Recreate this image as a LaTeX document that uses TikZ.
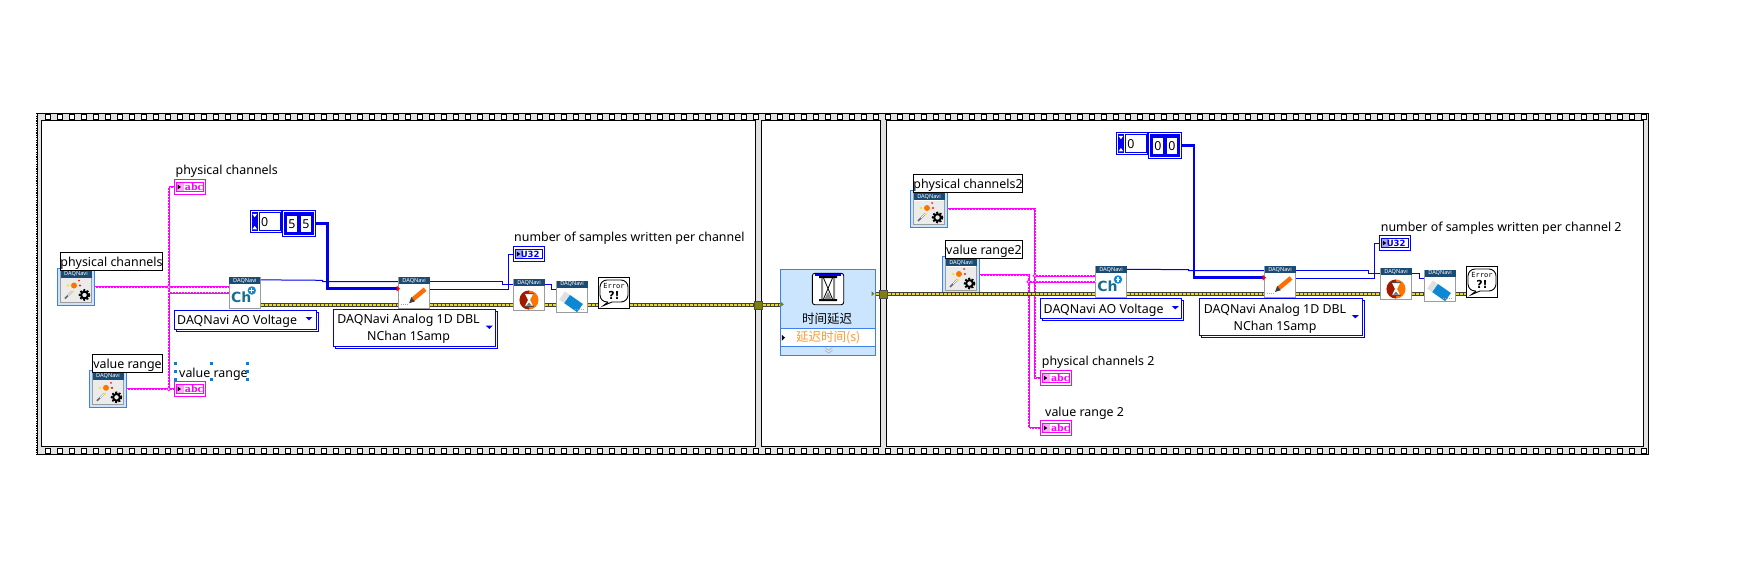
\documentclass[tikz,border=0pt]{standalone}
\usepackage{fontspec}
\setmainfont{Noto Sans}
\newfontfamily\cjk{Noto Sans CJK SC}
\newfontfamily\indfont{DejaVu Serif}
\newfontfamily\errfont{DejaVu Sans Mono}
\newfontfamily\heavyfont{DejaVu Sans}
\usetikzlibrary{shadows}
\definecolor{hdrblue}{HTML}{1B4B72}
\definecolor{vigray}{HTML}{9C9C9C}
\definecolor{wizblue}{HTML}{3F7FE8}
\definecolor{wizfill}{HTML}{CCE5FF}
\definecolor{wireblue}{HTML}{0000F0}
\definecolor{pinkwire}{HTML}{FF00FF}
\definecolor{tunnelolive}{HTML}{7F7F10}
\definecolor{framegray}{HTML}{E2E2E2}
\definecolor{delayorange}{HTML}{FF9A2E}
\tikzset{
txtmulti/.style={
    font=\fontsize{12.4}{17}\selectfont,
    inner sep=0pt
},
txt/.style={
    txtmulti,
    text height=11pt,
    text depth=1pt
},
lblbox/.style={
    txt,
    draw=black,
    fill=white,
    line width=0.9pt,
    minimum height=18pt
},
hdr/.style={
    fill=hdrblue,
    text=white,
    font=\fontsize{5.6}{5.6}\selectfont\bfseries,
    inner sep=0pt,
    minimum width=31pt,
    minimum height=7pt,
    anchor=north
},
vinode/.style={
    rectangle,
    draw=vigray,
    fill=white,
    line width=0.9pt,
    minimum size=31.4pt,
    inner sep=0pt,
    label={[hdr]north:DAQNavi}
},
wizbox/.style={
    rectangle,
    draw=wizblue,
    fill=wizfill,
    line width=0.9pt,
    minimum size=37pt,
    inner sep=0pt
},
errbox/.style={
    rectangle,
    draw=black,
    fill=white,
    line width=0.9pt,
    minimum size=31.4pt,
    inner sep=0pt
},
dropbox/.style={
    rectangle,
    draw=wireblue,
    fill=white,
    line width=0.9pt,
    inner sep=0pt,
    copy shadow={shadow xshift=2pt,shadow yshift=-2pt,draw=wireblue,fill=white}
},
tunnel/.style={
    rectangle,
    draw=black!70,
    fill=tunnelolive,
    line width=0.5pt,
    minimum size=8pt,
    inner sep=0pt
},
junction/.style={
    circle,
    draw=pinkwire,
    fill=white,
    line width=0.8pt,
    minimum size=3.6pt,
    inner sep=0pt
},
indbox/.style={
    rectangle,
    draw=#1,
    fill=white,
    line width=0.9pt,
    minimum width=31.4pt,
    minimum height=15.4pt,
    inner sep=0pt
},
pinkline/.style={
    draw=pinkwire,
    line width=2.2pt,
    postaction={draw=white,line width=0.6pt,dash pattern=on 1pt off 2pt}
},
taskline/.style={
    draw=wireblue,
    line width=1pt
},
arrayline/.style={
    draw=wireblue,
    line width=2.6pt
},
errline/.style={
    draw=black!85!yellow,
    line width=4pt,
    postaction={draw=yellow!90!black,line width=2pt,dash pattern=on 3pt off 1pt}
},
wand/.pic={
    \fill[black!8] (-15,-8.5) rectangle (15,15);
    \draw[black!60,line width=1.6pt] (-11,12) -- (-4,5);
    \draw[white,line width=1pt] (-8,9) -- (-4,5);
    \fill[orange!90!red] (-2,-1) circle (3);
    \fill[yellow!90!orange] (-8,-1) circle (1.3) (-3,5) circle (1.2);
    \fill[red!80!orange] (3,-6) circle (1) (4,-1) circle (1.2);
    \draw[black,line width=2pt] (8.5,8.5) circle (3.4);
    \draw[black,line width=1.6pt,dash pattern=on 2pt off 1.6pt] (8.5,8.5) circle (5);
},
pencil/.pic={
    \draw[orange!85!red,line width=4.4pt] (-1,6) -- (11,-4);
    \fill[black!75] (-5,10) -- (-2.8,3.8) -- (0.8,8.2) -- cycle;
    \draw[black!35,line width=0.8pt,dash pattern=on 1pt off 1pt] (-13,11) -- (-6,11);
},
waitglass/.pic={
    \fill[orange!90!red] (0,5) circle (9.5);
    \fill[red!55!black!80!orange] (0,14.5) arc (90:270:9.5) -- cycle;
    \fill[white] (-4,-1) -- (4,-1) -- (1,5) -- (4,11) -- (-4,11) -- (-1,5) -- cycle;
    \fill[black!70] (-4.5,-2) rectangle (4.5,-0.8) (-4.5,10.6) rectangle (4.5,11.8);
    \fill[black!55] (-2.5,10.6) -- (2.5,10.6) -- (0,7.5) -- cycle;
},
eraser/.pic={
    \begin{scope}[shift={(-1,5)},rotate=-35]
    \fill[cyan!70!blue] (-5,-5) rectangle (11,5);
    \fill[black!12] (-11,-5) rectangle (-5,5);
    \end{scope}
    \draw[black!35,line width=0.7pt,dash pattern=on 1pt off 1pt] (3,13) -- (13,13);
},
plusdot/.pic={
    \fill[cyan!70!blue] (0,0) circle (4.2);
    \draw[white,line width=1.2pt] (-2.4,0) -- (2.4,0) (0,-2.4) -- (0,2.4);
},
bubble/.pic={
    \draw[black,line width=0.9pt,rounded corners=7pt] (-6,9) -- (-14,9) -- (-14,-13) -- (14,-13) -- (14,9) -- (-2,9);
    \draw[black,line width=0.9pt] (-2,9) -- (-10.7,12.7) -- (-6,9);
},
bigglass/.pic={
    \fill[wireblue] (-13,-15) rectangle (13,-13.4);
    \fill[black] (-9,-13) rectangle (9,-11) (-9,10) rectangle (9,12);
    \fill[black!45] (-7,-11) rectangle (-5,10) (5,-11) rectangle (7,10);
    \draw[black,line width=0.8pt] (-4.5,-11) -- (4.5,10) (4.5,-11) -- (-4.5,10);
    \fill[black!45] (-3.5,10) -- (3.5,10) -- (0,3) -- cycle;
},
droptri/.pic={
    \fill[wireblue] (-3.5,-1.7) -- (3.5,-1.7) -- (0,1.7) -- cycle;
},
inarrow/.pic={
    \fill[tunnelolive] (0,-2.5) -- (3,0) -- (0,2.5) -- cycle;
},
blackarrow/.pic={
    \fill[black] (0,-3) -- (3.2,0) -- (0,3) -- cycle;
}
}
\newcommand{\wizardicon}[2]{
\node[wizbox] (#1) at (#2) {};
\node[vinode] (#1in) at (#1) {};
\pic at (#1) {wand};
}
\newcommand{\indicator}[5]{
\node[indbox=#3] (#1) at (#2) {};
\draw[#3,line width=0.8pt] ([shift={(2.6pt,3.6pt)}]#1.south west) rectangle ([shift={(-2.6pt,-3.6pt)}]#1.north east);
\fill[#3!35] ([shift={(2.9pt,3.9pt)}]#1.south west) rectangle ([shift={(10pt,-3.9pt)}]#1.north west);
\fill[black] ([shift={(4pt,2.4pt)}]#1.west) -- ([shift={(4pt,-2.4pt)}]#1.west) -- ([shift={(7.4pt,0pt)}]#1.west) -- cycle;
\node[text=#3,inner sep=0pt,anchor=west] (#1txt) at ([xshift=#4]#1.west) {#5};
}
\newcommand{\numconst}[3]{
\node[indbox=wireblue,minimum width=31.7pt,minimum height=22pt] (#1) at (#2) {};
\draw[wireblue,line width=0.8pt] ([shift={(10pt,2.4pt)}]#1.south west) rectangle ([shift={(-1.6pt,-1.8pt)}]#1.north east);
\fill[wireblue] ([shift={(2pt,2.4pt)}]#1.south west) rectangle ([shift={(8.4pt,-1.8pt)}]#1.north west);
\fill[white] ([shift={(2.8pt,-3.6pt)}]#1.north west) -- ([shift={(7.6pt,-3.6pt)}]#1.north west) -- ([shift={(5.2pt,-7pt)}]#1.north west) -- cycle;
\fill[white] ([shift={(2.8pt,3.8pt)}]#1.south west) -- ([shift={(7.6pt,3.8pt)}]#1.south west) -- ([shift={(5.2pt,7.2pt)}]#1.south west) -- cycle;
\node[txt,anchor=west] (#1txt) at ([xshift=11.5pt]#1.west) {#3};
}
\newcommand{\arrayconst}[3]{
\node[indbox=wireblue,minimum width=33.4pt,minimum height=26pt] (#1) at (#2) {};
\fill[wireblue] ([shift={(1.8pt,1.8pt)}]#1.south west) rectangle ([shift={(-1.8pt,-1.8pt)}]#1.north east);
\node[txt,fill=white,minimum width=10.6pt,minimum height=16pt] (#1l) at ([xshift=-7pt]#1) {#3};
\node[txt,fill=white,minimum width=10.6pt,minimum height=16pt] (#1r) at ([xshift=7pt]#1) {#3};
}
\newcommand{\abcfont}{\fontsize{9.5}{9.5}\selectfont\indfont\bfseries}
\newcommand{\ufont}{\fontsize{8.5}{8.5}\selectfont\heavyfont\bfseries}
\begin{document}
\begin{tikzpicture}[x=1pt,y=-1pt]
\useasboundingbox (0,0) rectangle (1744,588);
\filldraw[fill=framegray,draw=black,line width=1pt] (37,113.3) rectangle (1648.3,454.7);
\draw[black,line width=1.4pt,dash pattern=on 1.2pt off 1.2pt] (36.6,113.3) -- (36.6,454.7) (1648.4,113.3) -- (1648.4,454.7);
\foreach \i in {0,...,133} {
\filldraw[fill=white,draw=black,line width=0.9pt] (48+12*\i-2.4,114.4) rectangle (48+12*\i+2.4,119);
\filldraw[fill=white,draw=black,line width=0.9pt] (48+12*\i-2.4,448.4) rectangle (48+12*\i+2.4,453);
}
\filldraw[fill=white,draw=black,line width=1pt] (41.3,121) rectangle (755.3,446);
\filldraw[fill=white,draw=black,line width=1pt] (761.3,121) rectangle (880.7,446);
\filldraw[fill=white,draw=black,line width=1pt] (886.7,121) rectangle (1643,446);

\wizardicon{wizA}{76,286.5}
\wizardicon{wizB}{108,388.8}
\wizardicon{wizC}{929,209}
\wizardicon{wizD}{961,275}
\node[lblbox,minimum width=102.4pt] (lblA) at (111.5,261.7) {physical channels};
\node[lblbox,minimum width=70.4pt] (lblB) at (127.5,363.7) {value range};
\node[lblbox,minimum width=109.4pt] (lblC) at (968,183.3) {physical channels2};
\node[lblbox,minimum width=77.4pt] (lblD) at (984,249.3) {value range2};

\indicator{abcA}{189.8,187}{pinkwire}{11pt}{\abcfont abc}
\indicator{abcB}{189.8,389}{pinkwire}{11pt}{\abcfont abc}
\indicator{abcC}{1056,378}{pinkwire}{11pt}{\abcfont abc}
\indicator{abcD}{1056,428}{pinkwire}{11pt}{\abcfont abc}
\indicator{u32A}{529,254}{wireblue}{7.7pt}{\ufont U32}
\indicator{u32B}{1395,243}{wireblue}{7.7pt}{\ufont U32}
\node[txt,anchor=west] (nameA) at (175.5,170) {physical channels};
\node[txt,anchor=west] (nameB) at (179,372) {value range};
\node[txt,anchor=west] (nameC) at (1041.7,360.7) {physical channels 2};
\node[txt,anchor=west] (nameD) at (1045,411) {value range 2};
\node[txt,anchor=west] (nameE) at (514,236.7) {number of samples written per channel};
\node[txt,anchor=west] (nameF) at (1380.7,226) {number of samples written per channel 2};
\foreach \hx/\hy in {175.3/363.3,211.3/363.3,247.3/363.3,175.3/371.7,247.3/371.7,175.3/379.3,211.3/379.3,247.3/379.3}
\fill[cyan!60!blue] (\hx-1.3,\hy-1.3) rectangle (\hx+1.3,\hy+1.3);

\node[vinode] (chA) at (244.8,293) {};
\node[vinode] (writeA) at (414.1,293.2) {};
\node[vinode] (waitA) at (529,295) {};
\node[vinode] (eraseA) at (572,296.8) {};
\node[errbox] (errorA) at (614,293) {};
\node[vinode] (chB) at (1111,282) {};
\node[vinode] (writeB) at (1280,282) {};
\node[vinode] (waitB) at (1396,284) {};
\node[vinode] (eraseB) at (1440,285.8) {};
\node[errbox] (errorB) at (1482,282) {};
\foreach \n in {chA,chB} {
\node[inner sep=0pt,text=hdrblue!80!cyan,font=\fontsize{14}{14}\selectfont\heavyfont\bfseries] (\n txt) at ([shift={(-3.5pt,-4.5pt)}]\n) {Ch};
\pic at ([shift={(7pt,2.5pt)}]\n) {plusdot};
}
\pic at (writeA) {pencil};
\pic at (writeB) {pencil};
\pic at (waitA) {waitglass};
\pic at (waitB) {waitglass};
\pic at (eraseA) {eraser};
\pic at (eraseB) {eraser};
\foreach \n in {errorA,errorB} {
\pic at (\n) {bubble};
\node[inner sep=0pt,font=\fontsize{7}{7}\selectfont\errfont] (\n txt) at ([yshift=7pt]\n) {Error};
\node[inner sep=0pt,font=\fontsize{11}{11}\selectfont\heavyfont\bfseries] (\n sign) at ([yshift=-2pt]\n) {?!};
}

\numconst{ringA}{265.8,221.7}{0}
\arrayconst{arrA}{299,223.7}{5}
\numconst{ringB}{1132,143.7}{0}
\arrayconst{arrB}{1165,145.7}{0}

\node[dropbox,minimum width=141.7pt,minimum height=19.3pt] (ddA) at (245.2,319.7) {};
\node[txt,anchor=west] (ddAtxt) at (177,319.3) {DAQNavi AO Voltage};
\pic at (309,318.7) {droptri};
\node[dropbox,minimum width=162.4pt,minimum height=37.4pt] (ddB) at (414.5,328) {};
\node[txtmulti,align=center] (ddBtxt) at (408.5,329) {DAQNavi Analog 1D DBL\\NChan 1Samp};
\pic at (489.3,327.3) {droptri};
\node[dropbox,minimum width=141.4pt,minimum height=20pt] (ddC) at (1111,308.7) {};
\node[txt,anchor=west] (ddCtxt) at (1043.5,308.7) {DAQNavi AO Voltage};
\pic at (1175.3,307.7) {droptri};
\node[dropbox,minimum width=162.7pt,minimum height=37pt] (ddD) at (1280.7,316.8) {};
\node[txtmulti,align=center] (ddDtxt) at (1275,318.5) {DAQNavi Analog 1D DBL\\NChan 1Samp};
\pic at (1355.3,316.7) {droptri};

\node[rectangle,draw=wizblue,fill=wizfill,line width=0.9pt,minimum width=95.4pt,minimum height=86.4pt,inner sep=0pt] (delay) at (828,312.5) {};
\node[rectangle,draw=wizblue,fill=white,line width=0.9pt,minimum width=95.4pt,minimum height=17.6pt,inner sep=0pt] (delayrow) at (828,337.5) {};
\node[rectangle,draw=black,fill=white,line width=0.9pt,rounded corners=2.5pt,minimum size=31.4pt,inner sep=0pt] (delayicon) at (828,289) {};
\pic at (delayicon) {bigglass};
\node[inner sep=0pt,font=\fontsize{12.5}{14}\selectfont\cjk] (delaytitle) at (827,318.7) {时间延迟};
\node[inner sep=0pt,text=delayorange,font=\fontsize{12.5}{14}\selectfont\cjk] (delaytime) at (828.3,337.7) {延迟时间(s)};
\draw[black!30,line width=0.7pt] (825,347.6) -- (828.7,350.3) -- (832.4,347.6) (825,350.4) -- (828.7,353.1) -- (832.4,350.4);
\pic at (780.8,304.3) {inarrow};
\pic at (871.5,293.7) {inarrow};
\pic at (781.8,337.7) {blackarrow};

\node[tunnel] (tunA) at (758.3,305.3) {};
\node[tunnel] (tunB) at (883.6,294.3) {};

\coordinate (jA) at (168.7,287);
\coordinate (jAb) at (168.7,292.7);
\coordinate (jAc) at (168.7,389);
\coordinate (jAd) at (168.7,187);
\draw[pinkline] (jAd) -- (jAc);
\draw[pinkline] (abcA.west) -- (jAd);
\draw[pinkline] (wizA.east |- jA) -- (chA.west |- jA);
\draw[pinkline] (jAb) -- (chA.west |- jAb);
\draw[pinkline] (wizB.east |- jAc) -- (abcB.west |- jAc);
\node[junction] (dotA) at (jA) {};
\node[junction] (dotAc) at (jAc) {};

\coordinate (jB) at (1035,275.7);
\coordinate (jBb) at (1028.7,281.7);
\draw[pinkline] (wizC.east) -- (jB |- wizC.east) -- (jB |- abcC.west) -- (abcC.west);
\draw[pinkline] (wizD.east) -- (jBb |- wizD.east) -- (jBb |- abcD.west) -- (abcD.west);
\draw[pinkline] (jB) -- (chB.west |- jB);
\draw[pinkline] (jBb) -- (chB.west |- jBb);
\node[junction] (dotB) at (jB) {};
\node[junction] (dotBb) at (jBb) {};

\draw[taskline] ([yshift=-3pt]chA.north east) -- (322.7,280.3) -- (322.7,281.7) -- (writeA.west |- 0,281.7);
\draw[taskline] (writeA.east |- 0,281.3) -- (502.3,281.3) -- (502.3,284) -- (waitA.west |- 0,284);
\draw[taskline] (writeA.east |- 0,289.3) -- (508.7,289.3) -- (508.7,254) -- (u32A.west);
\draw[taskline] (waitA.east |- 0,284) -- (551.3,284) -- (551.3,289.3) -- (eraseA.west |- 0,289.3);
\draw[taskline] ([yshift=-3.4pt]chB.north east) -- (1188.7,269.7) -- (1188.7,270.7) -- (writeB.west |- 0,270.7);
\draw[taskline] (writeB.east |- 0,270.7) -- (1368.7,270.7) -- (1368.7,273.3) -- (waitB.west |- 0,273.3);
\draw[taskline] (writeB.east |- 0,278) -- (1374.3,278) -- (1374.3,243) -- (u32B.west);
\draw[taskline] (waitB.east |- 0,273.3) -- (1419.3,273.3) -- (1419.3,278.3) -- (eraseB.west |- 0,278.3);

\draw[arrayline] (arrA.east) -- (327.7,223.7) -- (327.7,288.7) -- (writeA.west |- 0,288.7);
\draw[arrayline] (arrB.east) -- (1194,145.7) -- (1194,277.7) -- (writeB.west |- 0,277.7);
\fill[red] (396.6,285.7) -- (400,288.7) -- (396.6,291.7) -- cycle;
\fill[red] (1262.6,274.7) -- (1266,277.7) -- (1262.6,280.7) -- cycle;

\draw[errline] (chA.east |- tunA) -- (writeA.west |- tunA);
\draw[errline] (writeA.east |- tunA) -- (waitA.west |- tunA);
\draw[errline] (waitA.east |- tunA) -- (eraseA.west |- tunA);
\draw[errline] (eraseA.east |- tunA) -- (errorA.west |- tunA);
\draw[errline] (errorA.east |- tunA) -- (tunA.west);
\draw[errline] (tunA.east) -- (delay.west |- tunA);
\draw[errline] (delay.east |- tunB) -- (tunB.west);
\draw[errline] (tunB.east) -- (chB.west |- tunB);
\draw[errline] (chB.east |- tunB) -- (writeB.west |- tunB);
\draw[errline] (writeB.east |- tunB) -- (waitB.west |- tunB);
\draw[errline] (waitB.east |- tunB) -- (eraseB.west |- tunB);
\draw[errline] (eraseB.east |- tunB) -- (errorB.west |- tunB);
\end{tikzpicture}
\end{document}
